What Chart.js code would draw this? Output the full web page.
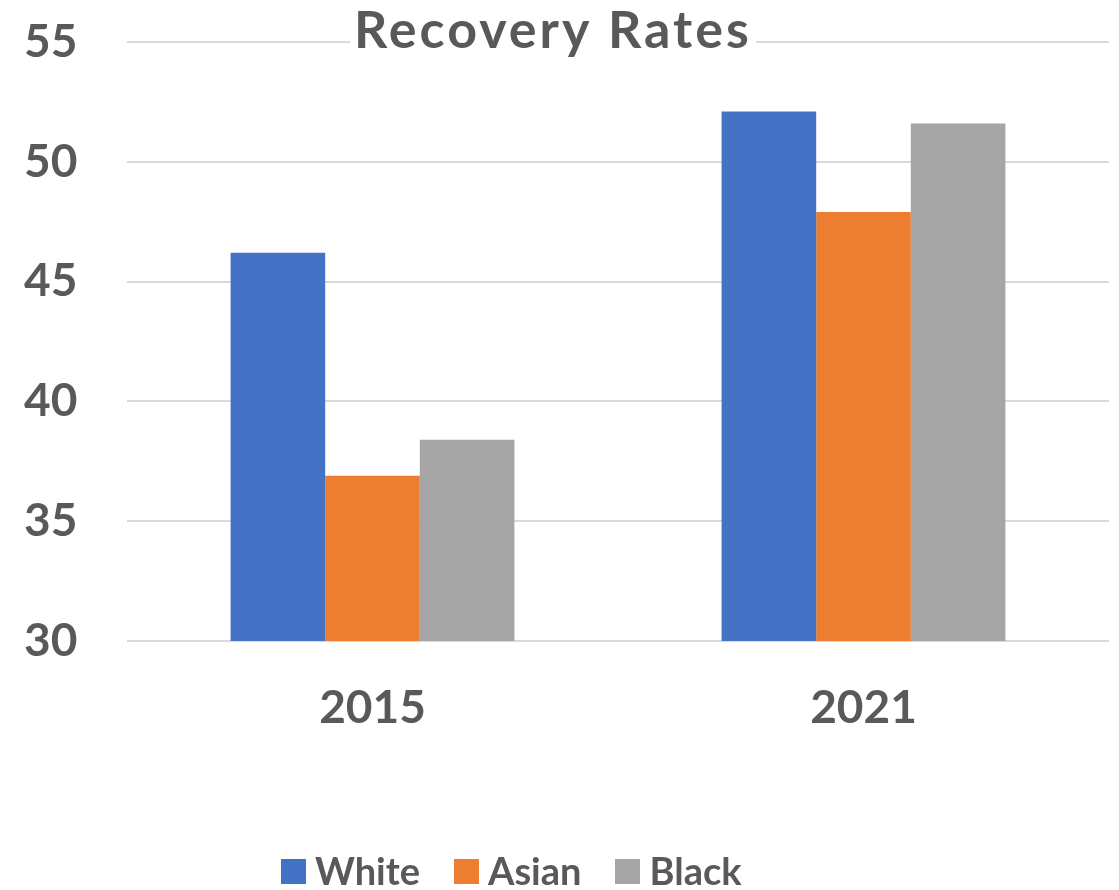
<!DOCTYPE html>
<html>
<head>
<meta charset="utf-8">
<title>Recovery Rates</title>
<script src="https://cdn.jsdelivr.net/npm/chart.js@4.4.0/dist/chart.umd.min.js"></script>
<style>
    html, body {
        margin: 0;
        padding: 0;
        background: #ffffff;
    }

    #wrap {
        position: relative;
        width: 1119px;
        height: 890px;
        overflow: hidden;
    }

    #legend {
        position: absolute;
        left: 281px;
        top: 848px;
        display: flex;
        align-items: center;
        font-family: Lato, sans-serif;
        font-weight: 700;
        font-size: 38px;
        line-height: 1.2;
        color: #595959;
        white-space: nowrap;
    }

    .item {
        display: flex;
        align-items: center;
        margin-right: 34px;
    }

    .swatch {
        width: 25px;
        height: 25px;
        margin-right: 9px;
        position: relative;
        top: 1px;
    }
</style>
</head>
<body>

<div id="wrap">
    <canvas id="rateChart" width="1119" height="890"></canvas>
    <div id="legend"></div>
</div>

<script>
const chartTitle = "Recovery Rates";

const years = ["2015", "2021"];

const seriesNames = ["White", "Asian", "Black"];

const whiteRates = [46.2, 52.1];
const asianRates = [36.9, 47.9];
const blackRates = [38.4, 51.6];

const seriesColors = ["#4472C4", "#ED7D31", "#A5A5A5"];

const yMin = 30;
const yMax = 55;
const yStep = 5;

const textColor = "#595959";
const gridColor = "#D9D9D9";


// title sits on top of the 55 gridline, so clear a box behind it first
const titlePlugin = {

    id: "boxedTitle",

    afterDraw(chart) {

        const ctx = chart.ctx;

        ctx.save();
        ctx.font = "bold 52px Lato";
        ctx.letterSpacing = "3px";
        ctx.textAlign = "center";
        ctx.textBaseline = "alphabetic";

        const x = 553;
        const y = 48;
        const w = ctx.measureText(chartTitle).width;

        ctx.fillStyle = "#ffffff";
        ctx.fillRect(x - w / 2 - 4, y - 42, w + 8, 54);

        ctx.fillStyle = textColor;
        ctx.fillText(chartTitle, x, y);
        ctx.restore();

    }

};


function buildLegend() {

    const box = document.getElementById("legend");

    seriesNames.forEach((name, i) => {

        const item = document.createElement("div");
        item.className = "item";

        const swatch = document.createElement("span");
        swatch.className = "swatch";
        swatch.style.background = seriesColors[i];

        const label = document.createElement("span");
        label.textContent = name;

        item.appendChild(swatch);
        item.appendChild(label);
        box.appendChild(item);

    });

}


function drawChart() {

    const ctx = document
        .getElementById("rateChart")
        .getContext("2d");

    const values = [whiteRates, asianRates, blackRates];

    new Chart(ctx, {

        type: "bar",

        data: {

            labels: years,

            datasets: seriesNames.map((name, i) => ({
                label: name,
                data: values[i],
                backgroundColor: seriesColors[i],
                borderWidth: 0,
                categoryPercentage: 0.578,
                barPercentage: 1.0
            }))

        },

        options: {

            responsive: false,

            animation: false,

            layout: {
                padding: {
                    top: 42,
                    right: 10,
                    bottom: 0,
                    left: 24
                }
            },

            plugins: {
                legend: { display: false },
                title: { display: false },
                tooltip: { enabled: false }
            },

            scales: {

                x: {
                    grid: { display: false },
                    border: { display: false },
                    ticks: {
                        color: textColor,
                        padding: 32,
                        font: {
                            family: "Lato",
                            size: 46,
                            weight: "700"
                        }
                    },
                    afterFit(scale) {
                        scale.height = 249;
                    }
                },

                y: {
                    min: yMin,
                    max: yMax,
                    grid: {
                        color: gridColor,
                        lineWidth: 2,
                        drawTicks: false
                    },
                    border: { display: false },
                    ticks: {
                        stepSize: yStep,
                        color: textColor,
                        padding: 0,
                        crossAlign: "far",
                        font: {
                            family: "Lato",
                            size: 46,
                            weight: "700"
                        }
                    },
                    afterFit(scale) {
                        scale.width = 103;
                    }
                }

            }

        },

        plugins: [titlePlugin]

    });

}


window.addEventListener("DOMContentLoaded", () => {
    buildLegend();
    drawChart();
});
</script>

</body>
</html>
